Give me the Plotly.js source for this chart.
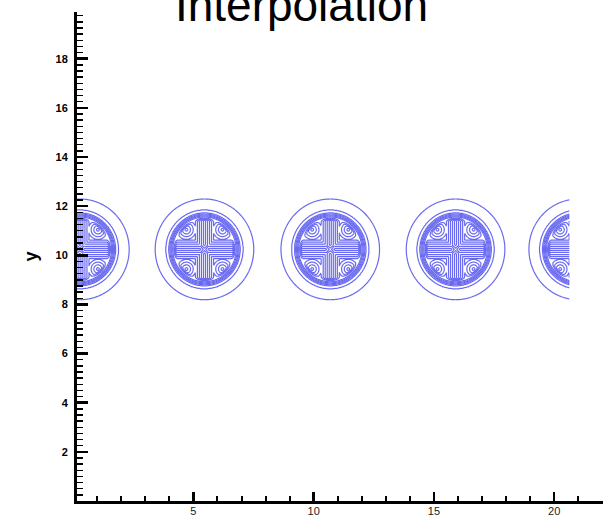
<!DOCTYPE html>
<html>
<head>
<meta charset="utf-8">
<script src="https://cdn.plot.ly/plotly-3.0.1.min.js"></script>
<style>
  html, body { margin: 0; padding: 0; background: #fff; overflow: hidden; }
  #chart { width: 603px; height: 517px; }
</style>
</head>
<body>
<div id="chart"></div>
<script>
// Centres of the ring structures along the row y = centerY
const centersX = [0.28, 5.46, 10.69, 15.9, 21.0];
const centerY = 10.24;
// Radii (outer to inner) of the concentric contour rings, one level each
const ringRadii = [2.05, 1.60, 1.48, 1.44, 1.40, 1.36, 1.32];
// Four lobes inside each ring, offsets from its centre
const lobeDX = [-0.75, 0.75, -0.75, 0.75];
const lobeDY = [0.80, 0.80, -0.80, -0.80];
const lobeRadius = 0.45;
const lobeLevels = 4;
// Horizontal / vertical arms of the inner cross
const armHalfWidth = 0.42;
const armLevels = 5;
// Small ring at each centre
const coreRadius = 0.20;
const coreDepth = 2;
// Sampled extent of the interpolated field
const fieldXRange = [0, 20.66];
const fieldYRange = [7.6, 12.9];
const gridStep = 0.03;

// Axis ticks
const xTickVals = [5, 10, 15, 20];
const yTickVals = [2, 4, 6, 8, 10, 12, 14, 16, 18];

// Radial level: integer levels sit on ringRadii, plateau inside the last ring
function radialLevel(r) {
  const n = ringRadii.length;
  if (r >= ringRadii[0]) return Math.max(0, 1 - (r - ringRadii[0]) / 0.4);
  for (let i = 0; i < n - 1; i++) {
    const a = ringRadii[i], b = ringRadii[i + 1];
    if (r >= b) return (i + 1) + (a - r) / (a - b);
  }
  return n + Math.min(0.5, (ringRadii[n - 1] - r) / 0.04 * 0.5);
}

function clamp(v, lo, hi) { return Math.max(lo, Math.min(hi, v)); }

function fieldValue(x, y) {
  // nearest centre
  let best = 0, bd = Infinity;
  for (let i = 0; i < centersX.length; i++) {
    const d = Math.abs(x - centersX[i]);
    if (d < bd) { bd = d; best = i; }
  }
  const dx = x - centersX[best], dy = y - centerY;
  const r = Math.hypot(dx, dy);
  const base = radialLevel(r);
  if (r > 1.32) return base;
  const taper = clamp((1.28 - r) / 0.1, 0, 1);
  const armV = armLevels * Math.max(0, 1 - Math.abs(dx) / armHalfWidth);
  const armH = armLevels * Math.max(0, 1 - Math.abs(dy) / armHalfWidth);
  let h = Math.max(armV, armH);
  for (let k = 0; k < lobeDX.length; k++) {
    const d = Math.hypot(dx - lobeDX[k], dy - lobeDY[k]);
    h = Math.max(h, lobeLevels * Math.max(0, 1 - d / lobeRadius));
  }
  if (r < coreRadius) h -= coreDepth * (1 - r / coreRadius);
  return base + taper * h;
}

// Build the grid the contour trace needs
const gx = [], gy = [], gz = [];
for (let x = fieldXRange[0]; x <= fieldXRange[1] + 1e-9; x += gridStep) gx.push(+x.toFixed(4));
for (let y = fieldYRange[0]; y <= fieldYRange[1] + 1e-9; y += gridStep) gy.push(+y.toFixed(4));
for (const y of gy) gz.push(gx.map(x => fieldValue(x, y)));

const lineBlue = 'rgb(80,80,238)';

const trace = {
  type: 'contour',
  x: gx, y: gy, z: gz,
  autocontour: false,
  contours: { start: 1, end: 30, size: 1, coloring: 'lines', showlabels: false },
  colorscale: [[0, lineBlue], [1, lineBlue]],
  line: { width: 1.2, smoothing: 1 },
  showscale: false,
  hoverinfo: 'skip',
  opacity: 0.85
};

const fontFamily = 'Liberation Sans, Arial, Helvetica, sans-serif';

const layout = {
  width: 603, height: 517,
  margin: { l: 77, r: 0, t: 12, b: 16, pad: 0 },
  paper_bgcolor: '#fff', plot_bgcolor: '#fff',
  showlegend: false,
  title: {
    text: 'Interpolation',
    font: { family: fontFamily, size: 46, color: '#000' },
    x: 0.5, xanchor: 'center', xref: 'container',
    y: 0.99, yanchor: 'middle', yref: 'container'
  },
  xaxis: {
    range: [0.16, 22.03],
    showline: true, linecolor: '#000', linewidth: 3,
    showgrid: false, zeroline: false,
    ticks: 'inside', tickmode: 'array', tickvals: xTickVals,
    ticklen: 9, tickwidth: 2.5, tickcolor: '#000',
    ticklabelstandoff: -2,
    tickfont: { family: fontFamily, size: 11, color: '#222' },
    minor: { tickmode: 'linear', tick0: 0, dtick: 1, ticks: 'inside', ticklen: 5, tickwidth: 2, tickcolor: '#000', showgrid: false }
  },
  yaxis: {
    range: [0, 19.9],
    showline: true, linecolor: '#000', linewidth: 3,
    showgrid: false, zeroline: false,
    ticks: 'inside', tickmode: 'array', tickvals: yTickVals,
    ticklen: 11, tickwidth: 2.5, tickcolor: '#000',
    ticklabelstandoff: 4,
    tickfont: { family: fontFamily, size: 11, color: '#000', weight: 'bold' },
    minor: { tickmode: 'linear', tick0: 0, dtick: 0.25, ticks: 'inside', ticklen: 6, tickwidth: 1.5, tickcolor: '#000', showgrid: false },
    title: { text: 'y', font: { family: fontFamily, size: 18, color: '#000', weight: 'bold' }, standoff: 14 }
  }
};

Plotly.newPlot('chart', [trace], layout, { staticPlot: true, displayModeBar: false });
</script>
</body>
</html>
